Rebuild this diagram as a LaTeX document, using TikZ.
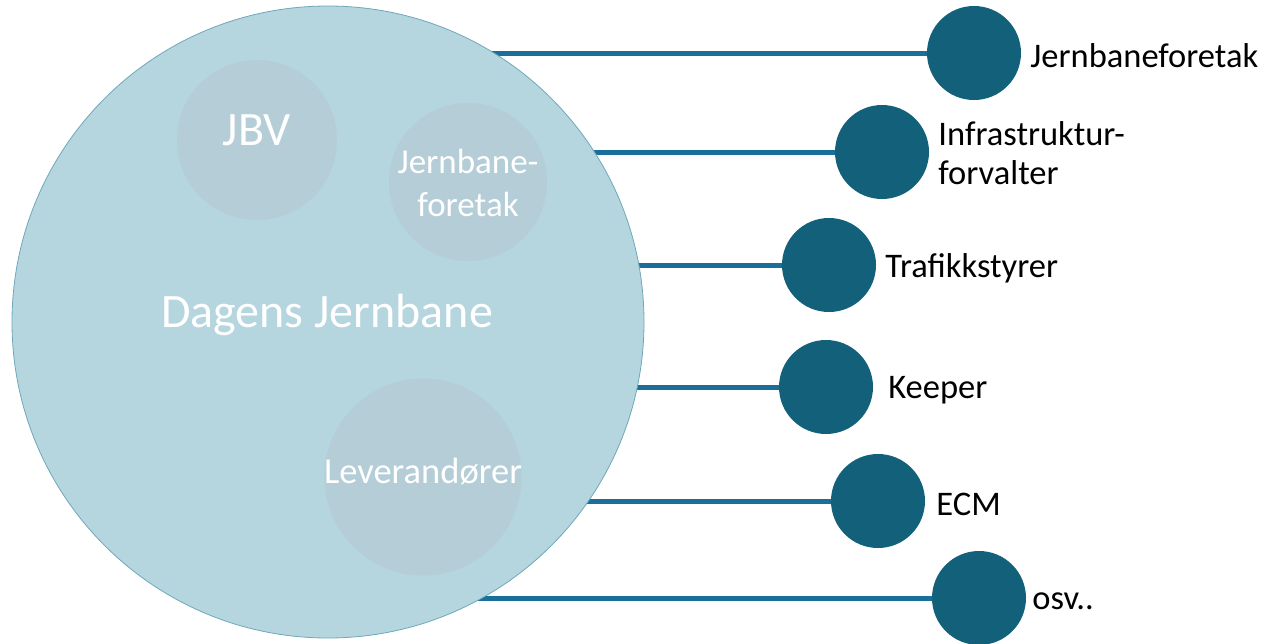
\documentclass[tikz,border=0pt]{standalone}
\usepackage{fontspec}
\setmainfont{Carlito}
\usetikzlibrary{positioning,backgrounds}
\definecolor{bigfill}{HTML}{B5D5DF}
\definecolor{bigedge}{HTML}{6FA8BA}
\definecolor{innerfill}{HTML}{B4CDD7}
\definecolor{dotfill}{HTML}{13607A}
\definecolor{linkcol}{HTML}{1A6E9A}

\tikzset{
	role/.style={circle, fill=dotfill, inner sep=0, minimum size=94pt},
	rolelabel/.style={right=9pt of #1, yshift=-3pt, inner sep=0, font=\fontsize{34.5}{39}\selectfont, align=left},
	part/.style={circle, fill=innerfill, inner sep=0},
	partlabel/.style={text=white, font=\fontsize{35}{43}\selectfont, align=center, inner sep=0},
	link/.style={linkcol, line width=5pt},
}

\begin{document}
\begin{tikzpicture}[x=1pt, y=-1pt]
		%%%%% START %%%%%
		\useasboundingbox (0,0) rectangle (1268,643);
		
		% the big circle
		\node[circle, fill=bigfill, draw=bigedge, line width=0.8pt, inner sep=0, minimum size=632pt] (jernbane) at (328,322) {};
		\node[text=white, font=\fontsize{48}{56}\selectfont, inner sep=0] (jernbanetxt) at (327,315) {Dagens Jernbane};
		
		% parts inside
		\node[part, minimum size=160pt] (jbv) at (257,140) {};
		\node[partlabel, font=\fontsize{48}{56}\selectfont] (jbvtxt) at ([yshift=10pt]jbv.center) {JBV};
		\node[part, minimum size=158pt] (foretak) at (468,182) {};
		\node[partlabel] (foretaktxt) at ([yshift=-1pt]foretak.center) {Jernbane-\\foretak};
		\node[part, minimum size=197pt] (leverandor) at (423,477) {};
		\node[partlabel, font=\fontsize{36.5}{43}\selectfont] (leverandortxt) at ([yshift=6pt]leverandor.center) {Leverandører};
		
		% roles on the right
		\node[role] (r1) at (974,53) {};
		\node[role] (r2) at (882,152) {};
		\node[role] (r3) at (829,265) {};
		\node[role] (r4) at (826,387) {};
		\node[role] (r5) at (878,501) {};
		\node[role] (r6) at (979,598) {};
		
		\node[rolelabel=r1] (t1) {Jernbaneforetak};
		\node[rolelabel=r2, yshift=2pt] (t2) {Infrastruktur-\\forvalter};
		\node[rolelabel=r3] (t3) {Trafikkstyrer};
		\node[rolelabel=r4, xshift=6pt] (t4) {Keeper};
		\node[rolelabel=r5, xshift=2pt] (t5) {ECM};
		\node[rolelabel=r6, xshift=-3pt] (t6) {osv..};
		
		% links behind the big circle
		\begin{scope}[on background layer]
			\foreach \r in {r1,r2,r3,r4,r5,r6}
				\draw[link] (\r -| jernbane.center) -- (\r.center);
		\end{scope}
		
		%%%%% END %%%%%
\end{tikzpicture}
\end{document}
